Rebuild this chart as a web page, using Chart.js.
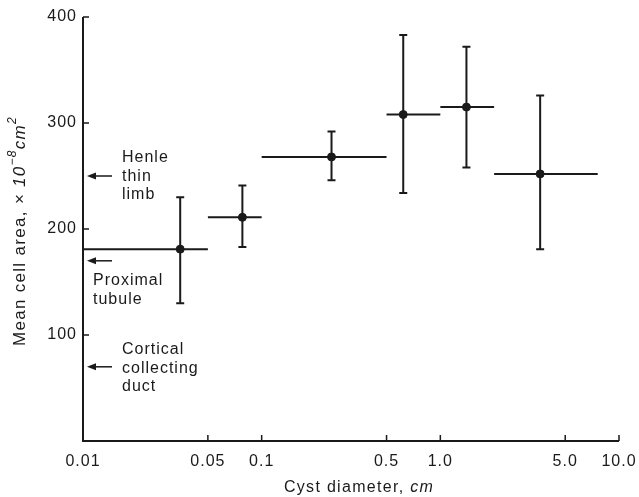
<!DOCTYPE html>
<html>
<head>
<meta charset="utf-8">
<script src="https://cdn.jsdelivr.net/npm/chart.js@4"></script>
<style>
  html, body { margin: 0; padding: 0; background: #fff; }
  #contenedor { width: 639px; height: 497px; }
</style>
</head>
<body>
<div id="contenedor"><canvas id="grafico"></canvas></div>
<script>
// datos
const diametros = [0.035, 0.078, 0.246, 0.62, 1.40, 3.62]
const areas = [181, 211, 268, 308, 315, 252]
const diamMin = [0.01, 0.05, 0.1, 0.5, 1.0, 2.0]
const diamMax = [0.05, 0.1, 0.5, 1.0, 2.0, 7.6]
const areaMin = [130, 183, 246, 234, 258, 181]
const areaMax = [230, 241, 292, 383, 372, 326]

const ticksX = [0.01, 0.05, 0.1, 0.5, 1, 5, 10]
const etiquetasX = ["0.01", "0.05", "0.1", "0.5", "1.0", "5.0", "10.0"]
const ticksY = [100, 200, 300, 400]

// referencias de la nefrona (flechas sobre el eje y)
const refValores = [250, 170, 70]
const refTextos = [["Henle", "thin", "limb"], ["Proximal", "tubule"], ["Cortical", "collecting", "duct"]]

const tinta = "#1a1a1a"
const fuente = "'Liberation Sans', Arial, sans-serif"

const puntos = diametros.map((d, i) => ({ x: d, y: areas[i] }))

// espaciado de letras como en la figura impresa
const espaciado = {
  id: "espaciado",
  beforeDraw(chart) {
    chart.ctx.letterSpacing = "1px"
  }
}

const barrasError = {
  id: "barrasError",
  beforeDatasetsDraw(chart) {
    const { ctx, scales: { x, y } } = chart
    ctx.save()
    ctx.strokeStyle = tinta
    ctx.lineWidth = 2
    diametros.forEach((d, i) => {
      const px = x.getPixelForValue(d)
      const py = y.getPixelForValue(areas[i])
      const y1 = y.getPixelForValue(areaMin[i])
      const y2 = y.getPixelForValue(areaMax[i])
      ctx.beginPath()
      ctx.moveTo(x.getPixelForValue(diamMin[i]), py)
      ctx.lineTo(x.getPixelForValue(diamMax[i]), py)
      ctx.moveTo(px, y1)
      ctx.lineTo(px, y2)
      ctx.moveTo(px - 4, y1)
      ctx.lineTo(px + 4, y1)
      ctx.moveTo(px - 4, y2)
      ctx.lineTo(px + 4, y2)
      ctx.stroke()
    })
    ctx.restore()
  }
}

const ejes = {
  id: "ejes",
  afterDraw(chart) {
    const { ctx, chartArea, scales: { x, y } } = chart
    const x0 = x.getPixelForValue(0.01)
    const y0 = y.getPixelForValue(0)
    ctx.save()
    ctx.strokeStyle = tinta
    ctx.fillStyle = tinta
    ctx.lineWidth = 2
    ctx.beginPath()
    ctx.moveTo(x0, y.getPixelForValue(400))
    ctx.lineTo(x0, y0)
    ctx.lineTo(x.getPixelForValue(10), y0)
    ctx.stroke()
    ctx.lineWidth = 1.5
    ctx.beginPath()
    ticksY.forEach(v => {
      const py = y.getPixelForValue(v)
      ctx.moveTo(x0, py)
      ctx.lineTo(x0 + 6, py)
    })
    ticksX.slice(1).forEach(v => {
      const px = x.getPixelForValue(v)
      ctx.moveTo(px, y0)
      ctx.lineTo(px, y0 - 6)
    })
    ctx.stroke()

    // flechas y textos de referencia
    const desplaz = [[39, -18], [10, 20], [39, -17]]
    ctx.font = "16px " + fuente
    ctx.letterSpacing = "1px"
    ctx.textBaseline = "middle"
    ctx.textAlign = "left"
    refValores.forEach((v, i) => {
      const py = y.getPixelForValue(v)
      ctx.lineWidth = 1.5
      ctx.beginPath()
      ctx.moveTo(x0 + 12, py)
      ctx.lineTo(x0 + 29, py)
      ctx.stroke()
      ctx.beginPath()
      ctx.moveTo(x0 + 4, py)
      ctx.lineTo(x0 + 13, py - 3.5)
      ctx.lineTo(x0 + 13, py + 3.5)
      ctx.closePath()
      ctx.fill()
      refTextos[i].forEach((t, j) => {
        ctx.fillText(t, x0 + desplaz[i][0], py + desplaz[i][1] + j * 18.5)
      })
    })

    // titulo eje x
    ctx.letterSpacing = "1.3px"
    const partesX = [["Cyst diameter, ", ""], ["cm", "italic "]]
    let ancho = 0
    partesX.forEach(p => { ctx.font = p[1] + "16px " + fuente; ancho += ctx.measureText(p[0]).width })
    let cx = (chartArea.left + chartArea.right) / 2 + 8 - ancho / 2
    partesX.forEach(p => {
      ctx.font = p[1] + "16px " + fuente
      ctx.fillText(p[0], cx, 488)
      cx += ctx.measureText(p[0]).width
    })

    // titulo eje y
    const partesY = [
      ["Mean cell area, ", "17px", 0],
      ["\u00d7 10", "italic 17px", 0],
      ["\u22128", "italic 12px", -7],
      ["cm", "italic 17px", 0],
      ["2", "italic 12px", -7]
    ]
    ancho = 0
    partesY.forEach(p => { ctx.font = p[1] + " " + fuente; ancho += ctx.measureText(p[0]).width })
    ctx.translate(20, (chartArea.top + chartArea.bottom) / 2 + 2)
    ctx.rotate(-Math.PI / 2)
    let cy = -ancho / 2
    partesY.forEach(p => {
      ctx.font = p[1] + " " + fuente
      ctx.fillText(p[0], cy, p[2])
      cy += ctx.measureText(p[0]).width
    })
    ctx.restore()
  }
}

new Chart(document.getElementById("grafico"), {
  type: "scatter",
  data: {
    datasets: [
      {
        data: puntos,
        backgroundColor: tinta,
        borderColor: tinta,
        pointRadius: 4,
        pointHoverRadius: 4,
      },
    ],
  },
  options: {
    responsive: true,
    maintainAspectRatio: false,
    animation: false,
    layout: { padding: { top: 17, right: 20, left: 0, bottom: 0 } },
    plugins: { legend: { display: false }, tooltip: { enabled: false } },
    scales: {
      x: {
        type: "logarithmic",
        min: 0.01,
        max: 10,
        grid: { display: false, drawTicks: false },
        border: { display: false },
        afterBuildTicks: (escala) => { escala.ticks = ticksX.map(v => ({ value: v })) },
        afterFit: (escala) => {
          escala.height = 56
          escala.paddingRight = 0
          escala.paddingLeft = 0
        },
        ticks: {
          autoSkip: false,
          maxRotation: 0,
          padding: 11,
          color: tinta,
          font: { family: fuente, size: 16 },
          callback: (valor, indice) => etiquetasX[indice],
        },
      },
      y: {
        min: 0,
        max: 400,
        grid: { display: false, drawTicks: false },
        border: { display: false },
        afterBuildTicks: (escala) => { escala.ticks = ticksY.map(v => ({ value: v })) },
        afterFit: (escala) => {
          escala.width = 83
          escala.paddingTop = 0
          escala.paddingBottom = 0
        },
        ticks: {
          padding: 6,
          color: tinta,
          font: { family: fuente, size: 16 },
        },
      },
    },
  },
  plugins: [espaciado, barrasError, ejes],
})
</script>
</body>
</html>
